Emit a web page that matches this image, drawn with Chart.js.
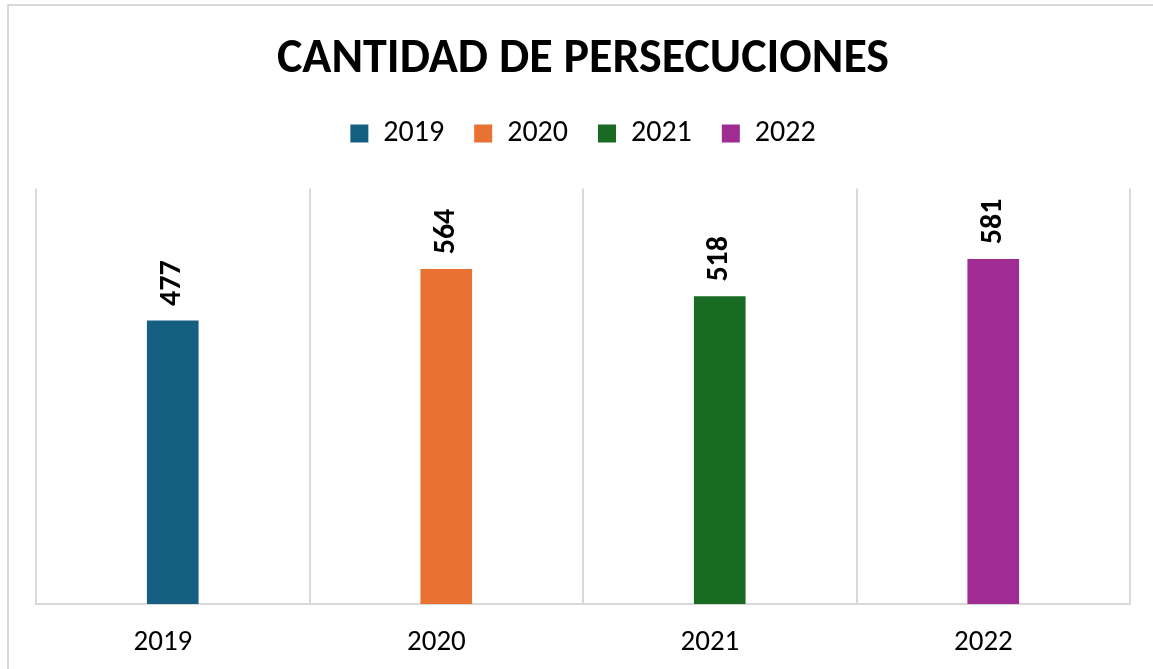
<!DOCTYPE html>
<html>
<head>
<meta charset="utf-8">
<script src="https://cdn.jsdelivr.net/npm/chart.js@4"></script>
<style>
  html, body { margin: 0; padding: 0; background: #fff; }
  #frame { position: absolute; left: 7px; top: 4px; width: 1200px; height: 700px;
           border-left: 2px solid #d9d9d9; border-top: 2px solid #d9d9d9; }
  #wrap { position: absolute; left: 0; top: 0; width: 1153px; height: 669px; }
</style>
</head>
<body>
<div id="frame"></div>
<div id="wrap"><canvas id="chart" width="1153" height="669"></canvas></div>
<script>
// Chart data
const years = ['2019', '2020', '2021', '2022'];
const persecuciones = [477, 564, 518, 581];
const barColors = ['#156082', '#E97132', '#196B24', '#A02B93'];

const FONT = 'Calibri, Carlito, Lato, sans-serif';

// one dataset per year so each gets its own legend entry
const datasets = years.map(function (year, i) {
    return {
        label: year,
        data: years.map((y, j) => (j === i ? persecuciones[i] : null)),
        backgroundColor: barColors[i],
        barThickness: 51
    };
});

// rotated value labels above the bars
const valueLabels = {
    id: 'valueLabels',
    afterDatasetsDraw(chart) {
        const ctx = chart.ctx;
        chart.data.datasets.forEach(function (ds, i) {
            const meta = chart.getDatasetMeta(i);
            meta.data.forEach(function (bar, j) {
                if (ds.data[j] == null) return;
                ctx.save();
                ctx.translate(bar.x, bar.y - 15);
                ctx.rotate(-Math.PI / 2);
                ctx.font = 'bold 30px ' + FONT;
                ctx.fillStyle = '#000';
                ctx.textAlign = 'left';
                ctx.textBaseline = 'middle';
                ctx.fillText(ds.data[j], 0, 0);
                ctx.restore();
            });
        });
    }
};

// extra room between legend and plot area
const legendSpace = {
    id: 'legendSpace',
    beforeInit(chart) {
        const fit = chart.legend.fit;
        chart.legend.fit = function () {
            fit.bind(chart.legend)();
            this.height += 30;
        };
    }
};

new Chart(document.getElementById('chart'), {
    type: 'bar',
    data: { labels: years, datasets: datasets },
    plugins: [valueLabels, legendSpace],
    options: {
        responsive: false,
        animation: false,
        skipNull: true,
        layout: { padding: { left: 36, right: 23, top: 0, bottom: 0 } },
        plugins: {
            title: {
                display: true,
                text: 'CANTIDAD DE PERSECUCIONES',
                color: '#000',
                font: { family: FONT, size: 48, weight: 'bold' },
                padding: { top: 31, bottom: 0 }
            },
            legend: {
                position: 'top',
                labels: {
                    color: '#000',
                    boxWidth: 18,
                    boxHeight: 18,
                    padding: 30,
                    font: { family: FONT, size: 30 }
                }
            },
            tooltip: { enabled: false }
        },
        scales: {
            x: {
                afterFit(axis) { axis.height = 65; },
                grid: { color: '#d9d9d9', lineWidth: 2, drawTicks: false, offset: true },
                border: { color: '#d9d9d9', width: 2 },
                ticks: {
                    color: '#000',
                    padding: 21,
                    font: { family: FONT, size: 29 },
                    // Excel sits the labels slightly left of the bar centre
                    callback: function (val) { return this.getLabelForValue(val) + '   '; }
                }
            },
            y: {
                display: false,
                min: 0,
                max: 700
            }
        }
    }
});
</script>
</body>
</html>
